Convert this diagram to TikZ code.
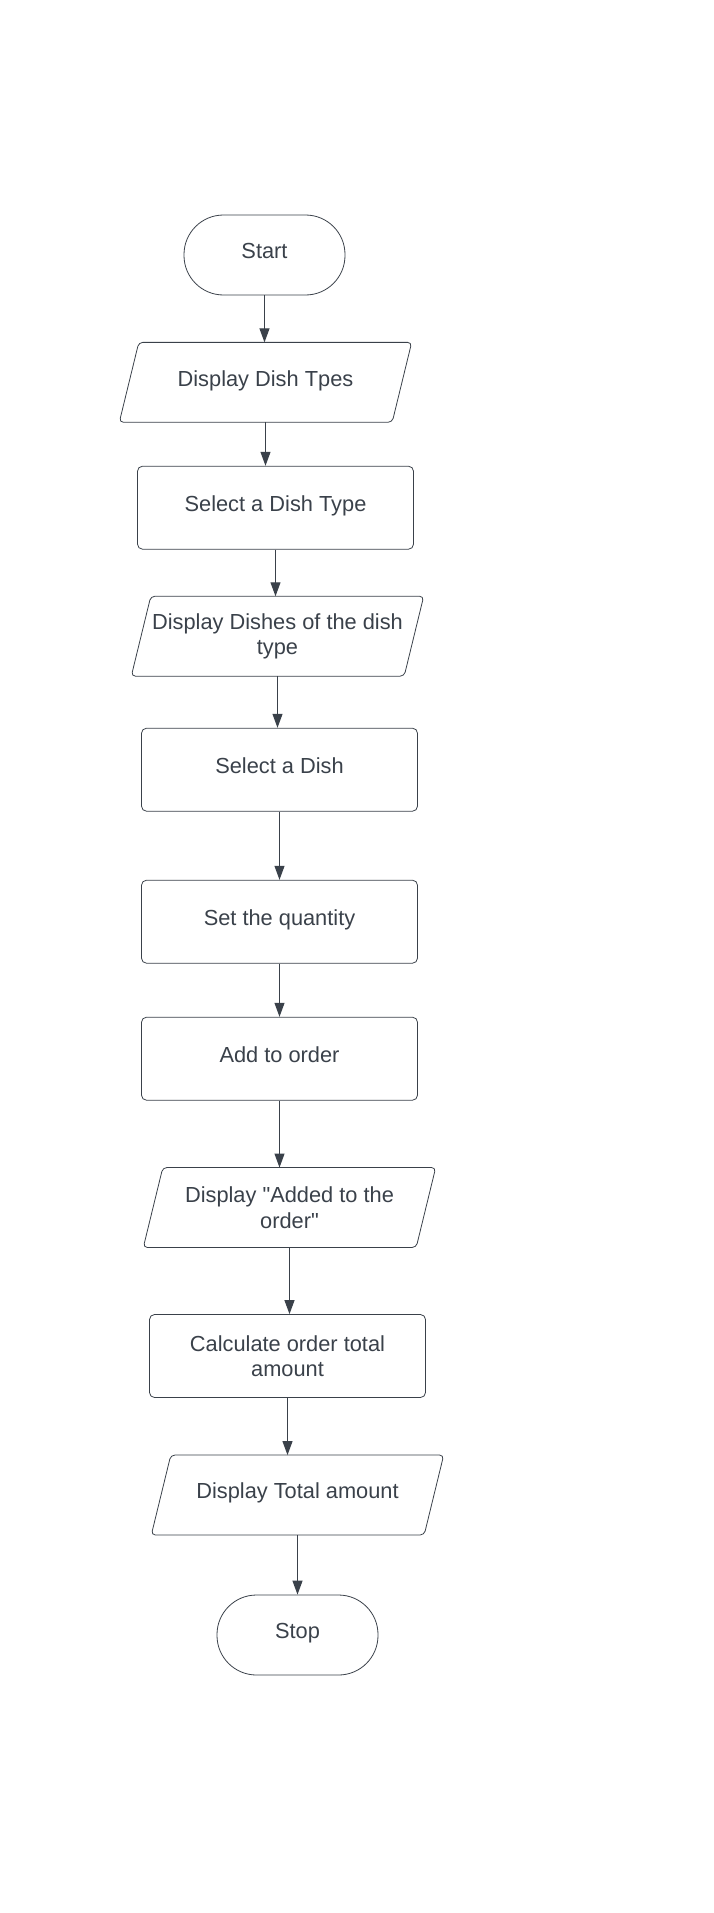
\documentclass[tikz,border=0pt]{standalone}
\usepackage{fontspec}
\newfontfamily\lab{Liberation Sans}
\usetikzlibrary{arrows.meta}
\definecolor{ink}{HTML}{3A414A}
\newcommand\drawio[1]{%
  \draw[ink, line width=0.8pt, rounded corners=4pt]
    ([xshift=19.5pt]#1.north west) -- (#1.north east)
    -- ([xshift=-19.5pt]#1.south east) -- (#1.south west) -- cycle;}
\begin{document}
\begin{tikzpicture}[x=1pt,y=-1pt,
  base/.style={font=\lab\fontsize{21.8}{25.5}\selectfont, text=ink, align=center, inner sep=0pt},
  oneline/.style={text height=15.7pt, text depth=8.1pt},
  proc/.style={base, draw=ink, line width=0.8pt, rounded corners=5pt, minimum width=276pt, minimum height=83pt},
  term/.style={base, draw=ink, line width=0.8pt, rounded corners=39.5pt, minimum width=161pt, minimum height=80pt},
  iobox/.style={base, minimum width=292pt, minimum height=79.5pt},
  arr/.style={draw=ink, line width=1.1pt, -{Triangle[length=14pt,width=10pt]}}
]
\useasboundingbox (0,0) rectangle (713,1913);

\node[term,oneline]  (start) at (264.5,255)    {Start};
\node[iobox,oneline] (p1)    at (265.5,382.3)  {Display Dish Tpes};
\node[proc,oneline]  (r1)    at (275.5,507.7)  {Select a Dish Type};
\node[iobox]         (p2)    at (277.5,636.2)  {Display Dishes of the dish\\type};
\node[proc,oneline]  (r2)    at (279.5,769.7)  {Select a Dish};
\node[proc,oneline]  (r3)    at (279.5,921.7)  {Set the quantity};
\node[proc,oneline]  (r4)    at (279.5,1058.7) {Add to order};
\node[iobox]         (p3)    at (289.5,1207.5) {Display "Added to the\\order"};
\node[proc]          (r5)    at (287.5,1356)   {Calculate order total\\amount};
\node[iobox,oneline] (p4)    at (297.5,1495)   {Display Total amount};
\node[term,oneline]  (stop)  at (297.5,1635)   {Stop};

\drawio{p1}
\drawio{p2}
\drawio{p3}
\drawio{p4}

\foreach \a/\b in {start/p1, p1/r1, r1/p2, p2/r2, r2/r3, r3/r4, r4/p3, p3/r5, r5/p4, p4/stop}
  \draw[arr] (\a.south) -- (\a.south |- \b.north);
\end{tikzpicture}
\end{document}
